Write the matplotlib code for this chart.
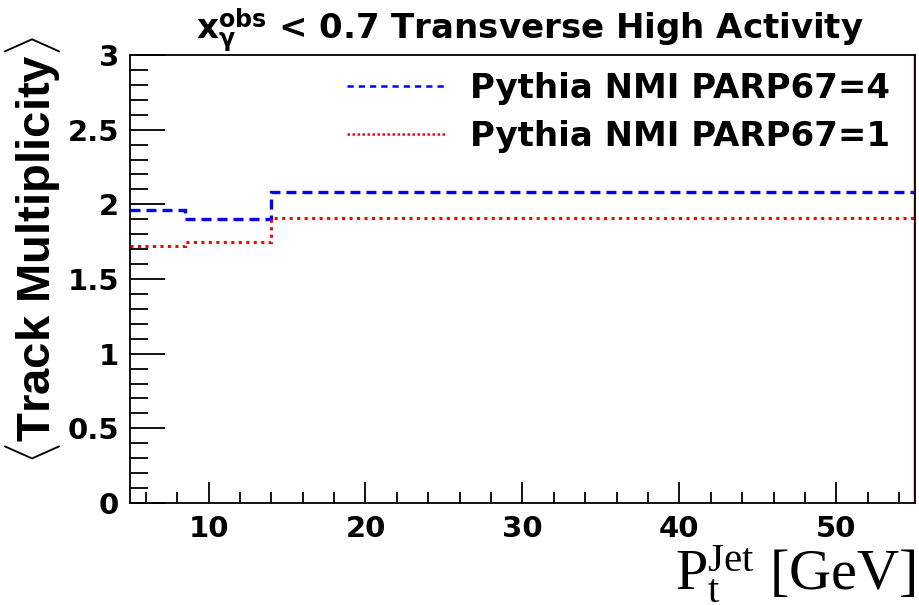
import numpy as np
import matplotlib
matplotlib.use('Agg')
import matplotlib.pyplot as plt
from matplotlib.lines import Line2D
from matplotlib.ticker import MultipleLocator

# bin edges in Pt jet [GeV] and mean track multiplicity per bin
bin_edges = [5, 8.5, 14, 55]
parp4 = [1.96, 1.90, 2.08]
parp1 = [1.72, 1.75, 1.91]

labels = ['Pythia NMI PARP67=4', 'Pythia NMI PARP67=1']
title = r'$\mathbf{x}_{\mathbf{\gamma}}^{\mathbf{obs}}$ < 0.7 Transverse High Activity'

plt.rcParams['font.family'] = ['DejaVu Sans']
plt.rcParams['font.weight'] = 'bold'
plt.rcParams['mathtext.fontset'] = 'custom'
plt.rcParams['mathtext.rm'] = 'Liberation Serif:regular'
plt.rcParams['mathtext.it'] = 'Liberation Serif:italic'
plt.rcParams['mathtext.bf'] = 'DejaVu Sans:bold'

fig = plt.figure(figsize=(9.19, 6.05), dpi=100)
ax = fig.add_axes([0.1415, 0.1686, 0.854, 0.7405])

ax.stairs(parp4, bin_edges, baseline=None, color='blue', lw=2.4, ls=(0, (3, 1.8)))
ax.stairs(parp1, bin_edges, baseline=None, color='red', lw=2.2, ls=(0, (1, 1.45)))
ax.axvline(55, color='red', lw=2.5)

ax.set_xlim(5, 55)
ax.set_ylim(0, 3)
ax.xaxis.set_major_locator(MultipleLocator(10))
ax.xaxis.set_minor_locator(MultipleLocator(2))
ax.yaxis.set_major_locator(MultipleLocator(0.5))
ax.yaxis.set_minor_locator(MultipleLocator(0.1))
ax.tick_params(axis='x', which='major', direction='in', length=15, width=1.3, labelsize=21, pad=9)
ax.tick_params(axis='x', which='minor', direction='in', length=8, width=1.3)
ax.tick_params(axis='y', which='major', direction='in', length=25, width=1.3, labelsize=21, pad=8)
ax.tick_params(axis='y', which='minor', direction='in', length=13, width=1.3)
ax.set_yticks([0, 0.5, 1, 1.5, 2, 2.5, 3])
ax.set_yticklabels(['0', '0.5', '1', '1.5', '2', '2.5', '3'])
for sp in ax.spines.values():
    sp.set_linewidth(1.3)

ax.set_title(title, fontsize=24.5, fontweight='bold', pad=8, x=0.51)
ax.set_ylabel(r'$\langle$Track Multiplicity$\rangle$', fontsize=34,
              family=['Liberation Sans Narrow', 'Liberation Sans'], fontweight='bold')
ax.yaxis.set_label_coords(-0.085, 0.565)
fig.text(0.997, 0.0, r'$\mathrm{P_t^{Jet}}$ [GeV]', family='Liberation Serif', fontweight='normal',
         fontsize=42, ha='right', va='bottom')

handles = [Line2D([], [], color='blue', lw=1.8, ls=(0, (2.5, 2))),
           Line2D([], [], color='red', lw=1.8, ls=(0, (1, 1)))]
ax.legend(handles, labels, loc='upper right', frameon=False, fontsize=24.5, handlelength=2.9,
          handletextpad=0.7, labelspacing=0.45, borderaxespad=0.1, bbox_to_anchor=(0.99, 1.0))

fig.savefig('out.png', dpi=100)
